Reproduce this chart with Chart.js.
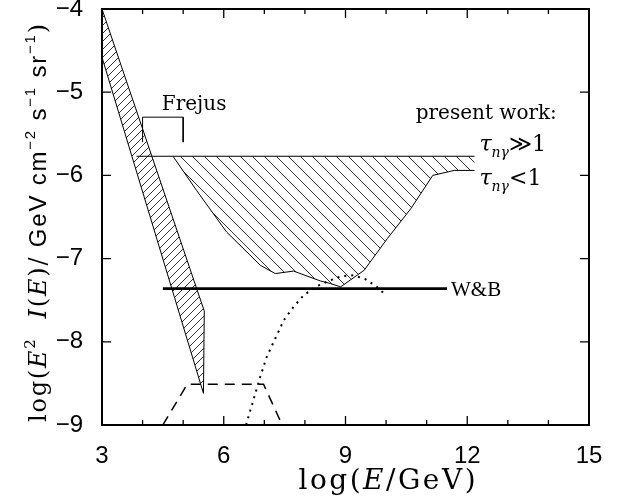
<!DOCTYPE html>
<html>
<head>
<meta charset="utf-8">
<script src="https://cdn.jsdelivr.net/npm/chart.js@4.4.1/dist/chart.umd.min.js"></script>
<style>
  html, body { margin: 0; padding: 0; background: #fff; }
  #wrap { width: 618px; height: 497px; }
</style>
</head>
<body>
<div id="wrap"><canvas id="myChart"></canvas></div>
<script>
// atmospheric band (closed polygon)
const bandX = [3, 5.52, 5.5, 3, 3];
const bandY = [-4, -7.63, -8.62, -4.58, -4];

// present work: tau >> 1 (upper line) and tau < 1 (lower curve)
const upperX = [3.85, 12.18];
const upperY = [-5.77, -5.77];
const lowerX = [4.75, 5.33, 5.95, 6.07, 6.9, 7.27, 7.72, 8.39, 8.63, 8.88, 9.46, 10.03, 10.61, 11.15, 11.68, 12.18];
const lowerY = [-5.77, -6.18, -6.6, -6.68, -7.08, -7.18, -7.15, -7.27, -7.3, -7.34, -7.14, -6.76, -6.4, -6.0, -5.94, -5.94];

// Frejus bracket
const frejusX = [4, 4, 5, 5];
const frejusY = [-5.6, -5.3, -5.3, -5.6];

// W&B bound
const wbX = [4.5, 11.5];
const wbY = [-7.36, -7.36];

// dotted curve
const dotX = [6.55, 6.73, 6.9, 7.06, 7.27, 7.48, 7.72, 7.97, 8.3, 8.63, 8.9, 9.2, 9.5, 9.75, 9.95];
const dotY = [-9.0, -8.7, -8.42, -8.18, -7.96, -7.74, -7.58, -7.44, -7.33, -7.26, -7.21, -7.2, -7.25, -7.33, -7.42];

// dashed curve
const dashX = [4.5, 5.1, 6.98, 7.44];
const dashY = [-9.0, -8.51, -8.51, -9.0];

const xTicks = [3, 6, 9, 12, 15];
const yTicks = [-9, -8, -7, -6, -5, -4];

function pts(xs, ys) {
  return xs.map((x, i) => ({ x: x, y: ys[i] }));
}

function hatch(size, dir) {
  const c = document.createElement('canvas');
  c.width = size; c.height = size;
  const g = c.getContext('2d');
  g.strokeStyle = '#000';
  g.lineWidth = 0.8;
  g.beginPath();
  if (dir === 'back') {
    g.moveTo(0, 0); g.lineTo(size, size);
    g.moveTo(-1, size - 1); g.lineTo(1, size + 1);
    g.moveTo(size - 1, -1); g.lineTo(size + 1, 1);
  } else {
    g.moveTo(0, size); g.lineTo(size, 0);
    g.moveTo(-1, 1); g.lineTo(1, -1);
    g.moveTo(size - 1, size + 1); g.lineTo(size + 1, size - 1);
  }
  g.stroke();
  return g.createPattern(c, 'repeat');
}

const serif = '"DejaVu Serif", serif';
const times = '"Liberation Serif", serif';
const sans = '"Liberation Sans", Arial, sans-serif';

// segs: [text, font, dy]; sp = extra space after each char
function drawRich(ctx, x, y, segs, align, sp) {
  sp = sp || 0;
  let w = 0;
  segs.forEach(s => {
    ctx.font = s[1];
    for (const ch of s[0]) w += ctx.measureText(ch).width + sp;
  });
  w -= sp;
  let cx = align === 'center' ? x - w / 2 : (align === 'right' ? x - w : x);
  ctx.textBaseline = 'alphabetic';
  ctx.textAlign = 'left';
  segs.forEach(s => {
    ctx.font = s[1];
    for (const ch of s[0]) {
      ctx.fillText(ch, cx, y + (s[2] || 0));
      cx += ctx.measureText(ch).width + sp;
    }
  });
}

const framePlugin = {
  id: 'frame',
  afterDraw(chart) {
    const ctx = chart.ctx;
    const a = chart.chartArea;
    const xs = chart.scales.x, ys = chart.scales.y;
    ctx.save();
    ctx.strokeStyle = '#000';
    ctx.fillStyle = '#000';
    ctx.lineWidth = 2;
    ctx.strokeRect(a.left, a.top, a.right - a.left, a.bottom - a.top);
    ctx.lineWidth = 1.3;
    ctx.beginPath();
    for (let v = 3; v <= 15; v++) {
      const px = xs.getPixelForValue(v);
      const len = v % 3 === 0 ? 9 : 5;
      ctx.moveTo(px, a.bottom); ctx.lineTo(px, a.bottom - len);
      ctx.moveTo(px, a.top); ctx.lineTo(px, a.top + len);
    }
    for (let v = -9; v <= -4; v++) {
      const py = ys.getPixelForValue(v);
      ctx.moveTo(a.left, py); ctx.lineTo(a.left + 9, py);
      ctx.moveTo(a.right, py); ctx.lineTo(a.right - 9, py);
    }
    ctx.stroke();

    // annotations
    const X = v => xs.getPixelForValue(v);
    const Y = v => ys.getPixelForValue(v);
    drawRich(ctx, X(5.27), Y(-5.13) + 7, [['Frejus', '20px ' + serif]], 'center');
    drawRich(ctx, X(10.73), Y(-5.24) + 7, [['present work:', '20px ' + serif]], 'left');
    drawRich(ctx, X(12.3), Y(-5.61) + 8, [['\u03c4', 'italic 22px ' + serif], ['n\u03b3', 'italic 14px ' + serif, 6], ['\u226b1', '22px ' + serif]], 'left');
    drawRich(ctx, X(12.3), Y(-6.02) + 8, [['\u03c4', 'italic 22px ' + serif], ['n\u03b3', 'italic 14px ' + serif, 6], ['<1', '22px ' + serif]], 'left');
    drawRich(ctx, X(11.6), Y(-7.36) + 7, [['W&B', '21px ' + times]], 'left');

    // axis titles
    drawRich(ctx, 387, 489, [['log(', '28px ' + serif], ['E', 'italic 28px ' + serif], ['/GeV)', '28px ' + serif]], 'center', 2.5);
    ctx.translate(46, (a.top + a.bottom) / 2 + 6);
    ctx.rotate(-Math.PI / 2);
    drawRich(ctx, 0, 0, [
      ['log(', '24px ' + serif], ['E', 'italic 24px ' + serif], ['2', '15px ' + serif, -11],
      ['  ', '24px ' + serif], ['I', 'italic 24px ' + serif], ['(', '24px ' + serif],
      ['E', 'italic 24px ' + serif], [')/', '24px ' + serif],
      [' GeV cm', '24px ' + sans], ['\u22122', '15px ' + sans, -11],
      [' s', '24px ' + sans], ['\u22121', '15px ' + sans, -11],
      [' sr', '24px ' + sans], ['\u22121', '15px ' + sans, -11],
      [')', '24px ' + serif]
    ], 'center', 1.8);
    ctx.restore();
  }
};

const line = (data, extra) => Object.assign({
  data: data, showLine: true, pointRadius: 0, borderColor: '#000',
  borderWidth: 1, fill: false, tension: 0
}, extra);

const bigX = [4.75, 12.18].concat(lowerX.slice().reverse());
const bigY = [-5.77, -5.77].concat(lowerY.slice().reverse());

const data = {
  datasets: [
    line(pts(bandX, bandY), { fill: 'shape', backgroundColor: hatch(8, 'fwd') }),
    line(pts(bigX, bigY), { fill: 'shape', borderWidth: 0, backgroundColor: hatch(12, 'back') }),
    line(pts(upperX, upperY)),
    line(pts(lowerX, lowerY)),
    line(pts(frejusX, frejusY)),
    line(pts(wbX, wbY), { borderWidth: 2.8 }),
    line(pts(dotX, dotY), { borderWidth: 2, borderDash: [2, 5] }),
    line(pts(dashX, dashY), { borderWidth: 1.5, borderDash: [10, 7] })
  ]
};

const config = {
  type: 'scatter',
  data,
  options: {
    responsive: true,
    maintainAspectRatio: false,
    animation: false,
    layout: { autoPadding: false, padding: { top: 9, right: 29, left: 0, bottom: 0 } },
    plugins: { legend: { display: false }, tooltip: { enabled: false } },
    scales: {
      x: {
        type: 'linear', min: 3, max: 15,
        grid: { display: false, drawTicks: false }, border: { display: false },
        afterBuildTicks: s => { s.ticks = xTicks.map(v => ({ value: v })); },
        ticks: { color: '#000', font: { family: sans, size: 24 }, padding: 17, maxRotation: 0 },
        afterFit: s => { s.height = 72; s.paddingLeft = 0; s.paddingRight = 0; }
      },
      y: {
        type: 'linear', min: -9, max: -4,
        grid: { display: false, drawTicks: false }, border: { display: false },
        afterBuildTicks: s => { s.ticks = yTicks.map(v => ({ value: v })); },
        ticks: {
          color: '#000', font: { family: sans, size: 24 }, padding: 19,
          callback: v => '\u2212' + Math.abs(v)
        },
        afterFit: s => { s.width = 102; s.paddingTop = 0; s.paddingBottom = 0; }
      }
    }
  },
  plugins: [framePlugin]
};

new Chart(document.getElementById('myChart'), config);
</script>
</body>
</html>
